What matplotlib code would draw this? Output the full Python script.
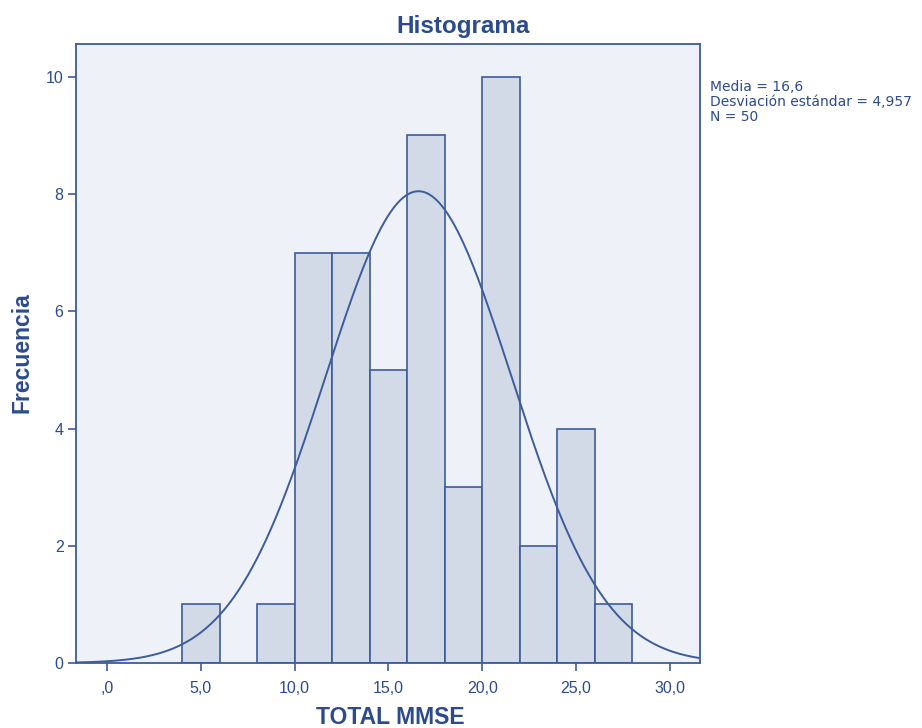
import numpy as np
import matplotlib
matplotlib.use("Agg")
import matplotlib.pyplot as plt

plt.rcParams['font.family'] = ['Liberation Sans', 'DejaVu Sans']

# Histogram of TOTAL MMSE scores (bin width 2)
bin_edges = [4, 6, 8, 10, 12, 14, 16, 18, 20, 22, 24, 26, 28]
counts = [1, 0, 1, 7, 7, 5, 9, 3, 10, 2, 4, 1]
mean = 16.6
std = 4.957
n = 50
bin_width = 2

x_ticks = [0, 5, 10, 15, 20, 25, 30]
x_tick_labels = [",0", "5,0", "10,0", "15,0", "20,0", "25,0", "30,0"]
y_ticks = [0, 2, 4, 6, 8, 10]

text_col = "#2c4b8e"
edge_col = "#3d5c9c"
bar_col = "#d3dae7"
bg_col = "#eef1f7"

fig = plt.figure(figsize=(9.22, 7.28), dpi=100)
ax = fig.add_axes([76/922, 65/728, 624/922, 619/728])
ax.set_facecolor(bg_col)

lefts = np.array(bin_edges[:-1])
widths = np.diff(bin_edges)
for l, w, c in zip(lefts, widths, counts):
    if c > 0:
        ax.bar(l, c, width=w, align='edge', color=bar_col,
               edgecolor=edge_col, linewidth=1.2, zorder=2)

xs = np.linspace(-1.65, 31.6, 400)
pdf = n * bin_width / (std * np.sqrt(2 * np.pi)) * np.exp(-0.5 * ((xs - mean) / std) ** 2)
ax.plot(xs, pdf, color=edge_col, linewidth=1.4, zorder=3)

ax.set_xlim(-1.65, 31.6)
ax.set_ylim(0, 10.56)
ax.set_xticks(x_ticks)
ax.set_xticklabels(x_tick_labels)
ax.set_yticks(y_ticks)
ax.set_yticklabels([str(v) for v in y_ticks])
ax.tick_params(axis='both', direction='out', length=6, width=1.2,
               color=edge_col, labelcolor=text_col, labelsize=11.5, pad=3)
ax.tick_params(axis='x', pad=7)
for s in ax.spines.values():
    s.set_color(edge_col)
    s.set_linewidth(1.3)

fig.text(463/922, 1 - 26/728, "Histograma", ha='center', va='center',
         fontsize=17.5, fontweight='bold', color=text_col)
fig.text(390/922, 1 - 717/728, "TOTAL MMSE", ha='center', va='center',
         fontsize=16.5, fontweight='bold', color=text_col)
fig.text(22/922, 1 - 353/728, "Frecuencia", ha='center', va='center',
         rotation=90, fontsize=16.5, fontweight='bold', color=text_col)
fig.text(710/922, 1 - 80/728,
         "Media = 16,6\nDesviación estándar = 4,957\nN = 50",
         ha='left', va='top', fontsize=10, color=text_col, linespacing=1.1,
         family=['DejaVu Sans'])

fig.savefig("out.png", dpi=100)
